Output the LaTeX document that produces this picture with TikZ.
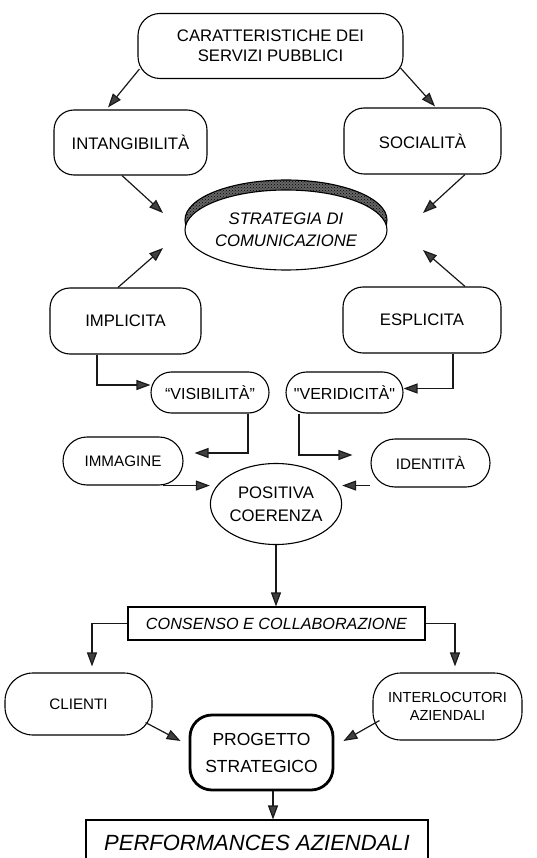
\documentclass[tikz,border=0pt]{standalone}
\usepackage{fontspec}
\setmainfont{Liberation Sans}
\usetikzlibrary{arrows.meta,shapes.geometric,patterns}
\begin{document}
\begin{tikzpicture}[x=1pt,y=-1pt,
  every node/.style={align=center, inner sep=0pt, font=\fontsize{16.7}{20}\selectfont},
  box/.style={draw, line width=1.1pt, rounded corners=#1},
  box/.default=20pt,
  plainrect/.style={draw, line width=1.1pt},
  smalltext/.style={font=\fontsize{15.2}{18}\selectfont},
  arr/.style={line width=1.2pt, draw=black!90,
    -{Triangle[length=14pt,width=10pt,fill=black!75]}},
]
% page
\useasboundingbox (0,0) rectangle (536,858);
\fill[white] (0,0) rectangle (536,858);

% --- top level
\node[box=22pt, minimum width=265pt, minimum height=65pt] (top) at (270.5,46)
  {CARATTERISTICHE DEI\\SERVIZI PUBBLICI};
\node[box, minimum width=153pt, minimum height=65pt] (intang) at (130.5,142.5) {INTANGIBILITÀ};
\node[box, minimum width=157pt, minimum height=66pt] (social) at (422.5,141) {SOCIALITÀ};

% --- central ellipse with its shaded rim
\node[ellipse, draw, line width=1.1pt, fill=black!60,
      postaction={pattern=crosshatch dots, pattern color=black},
      minimum width=202pt, minimum height=80pt] (stratrim) at (286,220) {};
\node[ellipse, draw, line width=1.1pt, fill=white, minimum width=202pt, minimum height=80pt,
      font=\fontsize{16.7}{22}\selectfont\itshape] (strat) at (286,230)
  {STRATEGIA DI\\COMUNICAZIONE};

% --- communication styles
\node[box, minimum width=151pt, minimum height=66pt] (impl) at (125.5,321) {IMPLICITA};
\node[box, minimum width=158pt, minimum height=66pt] (espl) at (422,320) {ESPLICITA};

\node[box=20.5pt, minimum width=118pt, minimum height=41pt, font=\fontsize{16}{19}\selectfont]
  (visib) at (210,392.5) {“VISIBILITÀ”};
\node[box=20.5pt, minimum width=117pt, minimum height=41pt,
      font=\fontsize{16}{19}\selectfont\addfontfeatures{Ligatures=TeXOff}]
  (verid) at (344.5,392.5) {"VERIDICITÀ"};

\node[box=24pt, smalltext, minimum width=120pt, minimum height=48pt] (imm) at (123,461) {IMMAGINE};
\node[box=24pt, smalltext, minimum width=119pt, minimum height=48pt] (ident) at (430.5,463) {IDENTITÀ};

\node[ellipse, draw, line width=1.1pt, minimum width=102pt, minimum height=81pt,
      font=\fontsize{16.7}{23}\selectfont] (pos) at (276,504) {POSITIVA\\COERENZA};

% --- lower part
\node[plainrect, minimum width=297pt, minimum height=33pt, font=\fontsize{16.2}{20}\selectfont\itshape]
  (cons) at (276.5,623.5) {CONSENSO E COLLABORAZIONE};

\node[box=28pt, smalltext, minimum width=147pt, minimum height=62pt] (clienti) at (78.5,704) {CLIENTI};
\node[box=28pt, font=\fontsize{14.6}{18}\selectfont, minimum width=149pt, minimum height=67pt]
  (inter) at (447.5,706.5) {INTERLOCUTORI\\AZIENDALI};

\node[draw, line width=2.8pt, rounded corners=22pt, minimum width=143pt, minimum height=75pt,
      font=\fontsize{17.5}{27}\selectfont] (prog) at (261.5,752.5) {PROGETTO\\STRATEGICO};

\node[plainrect, minimum width=342pt, minimum height=46pt, font=\fontsize{22}{26}\selectfont\itshape]
  (perf) at (257,843) {PERFORMANCES AZIENDALI};

% --- connectors
\draw[arr] ([xshift=2pt,yshift=10pt]top.south west) -- ([xshift=-22.5pt,yshift=2pt]intang.north);
\draw[arr] ([xshift=-3pt,yshift=11pt]top.south east) -- ([xshift=12.5pt,yshift=1pt]social.north);

\draw[arr] ([xshift=-8.5pt]intang.south) -- ([shift={(-123pt,17pt)}]strat.center);
\draw[arr] ([xshift=42.5pt]social.south) -- ([shift={(137pt,17pt)}]strat.center);
\draw[arr] ([xshift=-7.5pt]impl.north) -- ([shift={(-123pt,-18pt)}]strat.center);
\draw[arr] ([xshift=43pt]espl.north) -- ([shift={(137pt,-20pt)}]strat.center);

\draw[arr] ([xshift=-28.5pt]impl.south) |- ([yshift=7.5pt]visib.west);
\draw[arr] ([xshift=31pt]espl.south) |- ([yshift=4pt]verid.east);

\draw[arr] ([xshift=38pt]visib.south) |- ([xshift=11pt,yshift=8pt]imm.east);
\draw[arr] ([xshift=-45.5pt]verid.south) |- ([xshift=-18pt,yshift=8pt]ident.west);

\draw[arr] ([xshift=40pt]imm.south) -- (imm.south -| pos.west);
\draw[arr] (ident.south west |- imm.south) -- (imm.south -| pos.east);

\draw[arr] (pos.south) -- (pos.south |- cons.north);
\draw[arr] (cons.west) -| ([xshift=13.5pt,yshift=6pt]clienti.north);
\draw[arr] (cons.east) -| ([xshift=7.5pt,yshift=6pt]inter.north);

\draw[arr] ([xshift=-7pt,yshift=13pt]clienti.south east) -- ([xshift=-8pt,yshift=11.5pt]prog.west);
\draw[arr] ([xshift=7pt,yshift=20pt]inter.south west) -- ([xshift=9pt,yshift=11.5pt]prog.east);

\draw[arr] ([xshift=11.5pt]prog.south) -- ([xshift=16pt]perf.north);
\end{tikzpicture}
\end{document}
